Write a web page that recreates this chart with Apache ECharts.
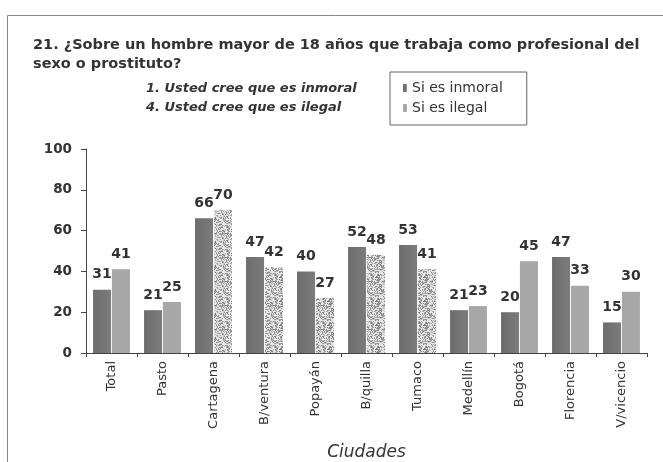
<!DOCTYPE html>
<html>
<head>
<meta charset="utf-8">
<script src="https://cdn.jsdelivr.net/npm/echarts@6/dist/echarts.min.js"></script>
<style>
  html, body { margin: 0; padding: 0; background: #fff; }
  #chart { width: 663px; height: 462px; }
</style>
</head>
<body>
<div id="chart"></div>
<script>
// Cities surveyed
const categories = ['Total', 'Pasto', 'Cartagena', 'B/ventura', 'Popayán', 'B/quilla',
  'Tumaco', 'Medellín', 'Bogotá', 'Florencia', 'V/vicencio'];
// Percentage who consider it immoral
const inmoral = [31, 21, 66, 47, 40, 52, 53, 21, 20, 47, 15];
// Percentage who consider it illegal
const ilegal = [41, 25, 70, 42, 27, 48, 41, 23, 45, 33, 30];
// Cities whose "illegal" bar is printed with a stippled fill
const stippled = ['Cartagena', 'B/ventura', 'Popayán', 'B/quilla', 'Tumaco'];
const yTicks = [0, 20, 40, 60, 80, 100];

const FONT = '"DejaVu Sans", sans-serif';

// Deterministic speckle texture for the stippled bars
function makeStipple() {
  const c = document.createElement('canvas');
  c.width = 24; c.height = 24;
  const ctx = c.getContext('2d');
  ctx.fillStyle = '#e6e6e6';
  ctx.fillRect(0, 0, 24, 24);
  let s = 7;
  const next = () => { s = (s * 1103515245 + 12345) & 0x7fffffff; return s / 0x7fffffff; };
  for (let y = 0; y < 24; y++) {
    for (let x = 0; x < 24; x++) {
      if (next() < 0.5) {
        const g = Math.round(115 + next() * 80);
        ctx.fillStyle = `rgb(${g},${g},${g})`;
        ctx.fillRect(x, y, 1, 1);
      }
    }
  }
  return c;
}
const stipple = makeStipple();

const darkFill = new echarts.graphic.LinearGradient(0, 0, 1, 0, [
  { offset: 0, color: '#6c6c6c' }, { offset: 1, color: '#7c7c7c' }
]);
const lightFill = '#a7a7a7';

const chart = echarts.init(document.getElementById('chart'));

const labelStyle = {
  show: true,
  position: 'top',
  distance: 8,
  color: '#333',
  fontFamily: FONT,
  fontWeight: 'bold',
  fontSize: 14
};

chart.setOption({
  animation: false,
  backgroundColor: '#fff',
  title: [
    {
      text: '21. ¿Sobre un hombre mayor de 18 años que trabaja como profesional del\nsexo o prostituto?',
      left: 33, top: 36, padding: 0,
      textStyle: { fontFamily: FONT, fontSize: 14.5, fontWeight: 'bold', color: '#333', lineHeight: 19 }
    },
    {
      text: '1. Usted cree que es inmoral\n4. Usted cree que es ilegal',
      left: 146, top: 79, padding: 0,
      textStyle: { fontFamily: FONT, fontSize: 13, fontStyle: 'italic', fontWeight: 'bold', color: '#333', lineHeight: 19 }
    }
  ],
  legend: {
    orient: 'vertical',
    left: 390, top: 72,
    padding: [9, 24, 10, 13],
    itemGap: 6,
    itemWidth: 4, itemHeight: 8,
    borderColor: '#666', borderWidth: 1,
    textStyle: { fontFamily: FONT, fontSize: 14, color: '#333' },
    data: ['Si es inmoral', 'Si es ilegal']
  },
  grid: { left: 86, right: 16, top: 149, bottom: 107, containLabel: false },
  xAxis: {
    type: 'category',
    data: categories,
    name: 'Ciudades',
    nameLocation: 'middle',
    nameGap: 91,
    nameTextStyle: { fontFamily: FONT, fontSize: 17, fontStyle: 'italic', color: '#333' },
    axisLine: { lineStyle: { color: '#444', width: 1 } },
    axisTick: { show: true, length: 4, lineStyle: { color: '#444' } },
    axisLabel: { rotate: 90, fontFamily: FONT, fontSize: 13, color: '#333', margin: 8 }
  },
  yAxis: {
    type: 'value',
    min: 0, max: 100, interval: 20,
    axisLine: { show: true, lineStyle: { color: '#444', width: 1 } },
    axisTick: { show: true, length: 5, lineStyle: { color: '#444' } },
    splitLine: { show: false },
    axisLabel: { fontFamily: FONT, fontSize: 13.5, fontWeight: 'bold', color: '#333', margin: 14 }
  },
  series: [
    {
      name: 'Si es inmoral',
      type: 'bar',
      barWidth: 18,
      barGap: '5%',
      itemStyle: { color: darkFill },
      label: labelStyle,
      data: inmoral
    },
    {
      name: 'Si es ilegal',
      type: 'bar',
      barWidth: 18,
      itemStyle: { color: lightFill },
      label: labelStyle,
      data: ilegal.map((v, i) => stippled.includes(categories[i])
        ? { value: v, itemStyle: { color: { image: stipple, repeat: 'repeat' } } }
        : v)
    }
  ],
  graphic: [
    {
      type: 'rect',
      silent: true,
      shape: { x: 7.5, y: 15.5, width: 700, height: 500 },
      style: { fill: 'none', stroke: '#888', lineWidth: 1 }
    }
  ]
});
</script>
</body>
</html>
